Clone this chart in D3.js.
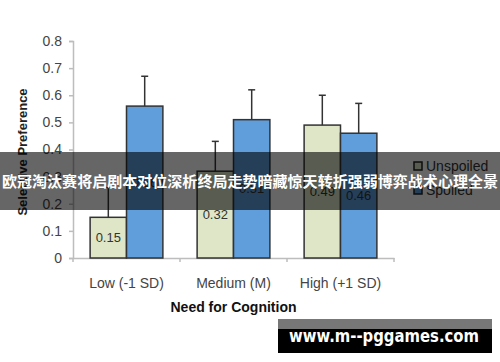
<!DOCTYPE html>
<html>
<head>
<meta charset="utf-8">
<script src="https://cdn.jsdelivr.net/npm/d3@7/dist/d3.min.js"></script>
<style>
  body { margin: 0; background: #fff; }
  svg { display: block; font-family: "Liberation Sans", Arial, Helvetica, sans-serif; }
</style>
</head>
<body>
<svg width="500" height="362"></svg>
<script>
  let categories = ['Low (-1 SD)', 'Medium (M)', 'High (+1 SD)'];
  let seriesNames = ['Unspoiled', 'Spoiled'];
  let unspoiled = [0.15, 0.32, 0.49];
  let spoiled = [0.56, 0.51, 0.46];
  let errUnspoiled = [0.11, 0.11, 0.11];
  let errSpoiled = [0.11, 0.11, 0.11];
  let yTicks = [0, 0.1, 0.2, 0.3, 0.4, 0.5, 0.6, 0.7, 0.8];
  let colors = ['#dee6c7', '#5f9ddb'];
  let bannerText = '欧冠淘汰赛将启剧本对位深析终局走势暗藏惊天转折强弱博弈战术心理全景';
  let watermark = 'www.m--pggames.com';

  let plotLeft = 73, plotRight = 394, plotTop = 41, plotBottom = 258;

  let svg = d3.select('svg');

  let rows = [];
  categories.forEach((c, i) => {
    rows.push({cat: c, s: seriesNames[0], v: unspoiled[i], e: errUnspoiled[i], k: 0});
    rows.push({cat: c, s: seriesNames[1], v: spoiled[i], e: errSpoiled[i], k: 1});
  });

  let x0 = d3.scaleBand().domain(categories).range([plotLeft, plotRight]);
  let bw = x0.bandwidth();
  let x1 = d3.scaleBand().domain(seriesNames).range([bw * 0.16, bw * 0.84]);
  let y = d3.scaleLinear().domain([0, 0.8]).range([plotBottom, plotTop]);

  // y axis
  let yAxis = svg.append('g')
    .attr('transform', `translate(${plotLeft},0)`)
    .call(d3.axisLeft(y).tickValues(yTicks).tickSize(4).tickPadding(7)
      .tickFormat(d => d === 0 ? '0' : d3.format('.1f')(d)));
  yAxis.select('.domain').attr('stroke', '#bdbdbd').attr('stroke-width', 1.5);
  yAxis.selectAll('.tick line').attr('stroke', '#bdbdbd').attr('stroke-width', 1.5);
  yAxis.selectAll('.tick text').attr('fill', '#444').style('font-size', '14px');

  // x axis
  let xAxis = svg.append('g')
    .attr('transform', `translate(0,${plotBottom})`)
    .call(d3.axisBottom(x0).tickSize(0).tickPadding(20));
  xAxis.select('.domain').attr('stroke', '#bdbdbd').attr('stroke-width', 1.5);
  xAxis.selectAll('.tick text').attr('fill', '#444').style('font-size', '14px');
  let edges = categories.map(c => x0(c)).concat([plotRight]);
  xAxis.selectAll('line.edge')
    .data(edges)
    .enter()
    .append('line')
    .attr('x1', d => d).attr('x2', d => d)
    .attr('y1', 0).attr('y2', 4)
    .attr('stroke', '#bdbdbd').attr('stroke-width', 1.5);

  // bars
  svg.selectAll('rect.bar')
    .data(rows)
    .enter()
    .append('rect')
    .attr('class', 'bar')
    .attr('x', d => x0(d.cat) + x1(d.s))
    .attr('y', d => y(d.v))
    .attr('width', x1.bandwidth())
    .attr('height', d => y(0) - y(d.v))
    .attr('fill', d => colors[d.k])
    .attr('stroke', '#333')
    .attr('stroke-width', 1.5);

  // error bars
  let eb = svg.selectAll('g.err')
    .data(rows)
    .enter()
    .append('g')
    .attr('transform', d => `translate(${x0(d.cat) + x1(d.s) + x1.bandwidth() / 2},0)`);
  eb.append('line')
    .attr('y1', d => y(d.v)).attr('y2', d => y(d.v + d.e))
    .attr('stroke', '#333').attr('stroke-width', 1.5);
  eb.append('line')
    .attr('x1', -3.5).attr('x2', 3.5)
    .attr('y1', d => y(d.v + d.e)).attr('y2', d => y(d.v + d.e))
    .attr('stroke', '#333').attr('stroke-width', 1.5);

  // value labels
  svg.selectAll('text.val')
    .data(rows)
    .enter()
    .append('text')
    .attr('x', d => x0(d.cat) + x1(d.s) + x1.bandwidth() / 2)
    .attr('y', d => (y(d.v) + y(0)) / 2)
    .attr('dy', '.35em')
    .attr('text-anchor', 'middle')
    .attr('fill', '#333')
    .style('font-size', '13px')
    .text(d => d3.format('.2f')(d.v));

  // axis titles
  svg.append('text')
    .attr('transform', 'rotate(-90)')
    .attr('x', -152)
    .attr('y', 27)
    .attr('text-anchor', 'middle')
    .style('font-size', '13px')
    .style('font-weight', 'bold')
    .attr('fill', '#222')
    .text('Selective Preference');

  svg.append('text')
    .attr('x', (plotLeft + plotRight) / 2)
    .attr('y', 312)
    .attr('text-anchor', 'middle')
    .style('font-size', '14px')
    .style('font-weight', 'bold')
    .attr('fill', '#111')
    .text('Need for Cognition');

  // legend
  let legend = svg.selectAll('.legend')
    .data(seriesNames)
    .enter()
    .append('g')
    .attr('transform', (d, i) => `translate(418,${166 + i * 24})`);
  legend.append('rect')
    .attr('x', -4).attr('y', -4)
    .attr('width', 8).attr('height', 8)
    .attr('fill', (d, i) => colors[i])
    .attr('stroke', '#222')
    .attr('stroke-width', 1.5);
  legend.append('text')
    .attr('x', 8)
    .attr('dy', '.35em')
    .style('font-size', '14px')
    .attr('fill', '#333')
    .text(d => d);

  // banner overlay
  svg.append('rect')
    .attr('x', 0).attr('y', 152)
    .attr('width', 500).attr('height', 58)
    .attr('fill', 'rgba(0,0,0,0.6)');
  svg.append('text')
    .attr('x', 250)
    .attr('y', 182)
    .attr('dy', '.35em')
    .attr('text-anchor', 'middle')
    .attr('fill', '#fff')
    .attr('textLength', 496)
    .attr('lengthAdjust', 'spacingAndGlyphs')
    .style('font-family', '"Noto Sans CJK SC", sans-serif')
    .style('font-size', '14.5px')
    .style('font-weight', 'bold')
    .text(bannerText);

  // watermark
  svg.append('rect')
    .attr('x', 278).attr('y', 319)
    .attr('width', 214).attr('height', 34)
    .attr('fill', '#000');
  svg.append('rect')
    .attr('x', 278).attr('y', 319)
    .attr('width', 214).attr('height', 10)
    .attr('fill', '#777');
  svg.append('text')
    .attr('x', 384)
    .attr('y', 342)
    .attr('text-anchor', 'middle')
    .attr('fill', '#fff')
    .attr('textLength', 190)
    .attr('lengthAdjust', 'spacingAndGlyphs')
    .style('font-family', '"DejaVu Sans", sans-serif')
    .style('font-size', '17px')
    .style('font-weight', 'bold')
    .text(watermark);
</script>
</body>
</html>
